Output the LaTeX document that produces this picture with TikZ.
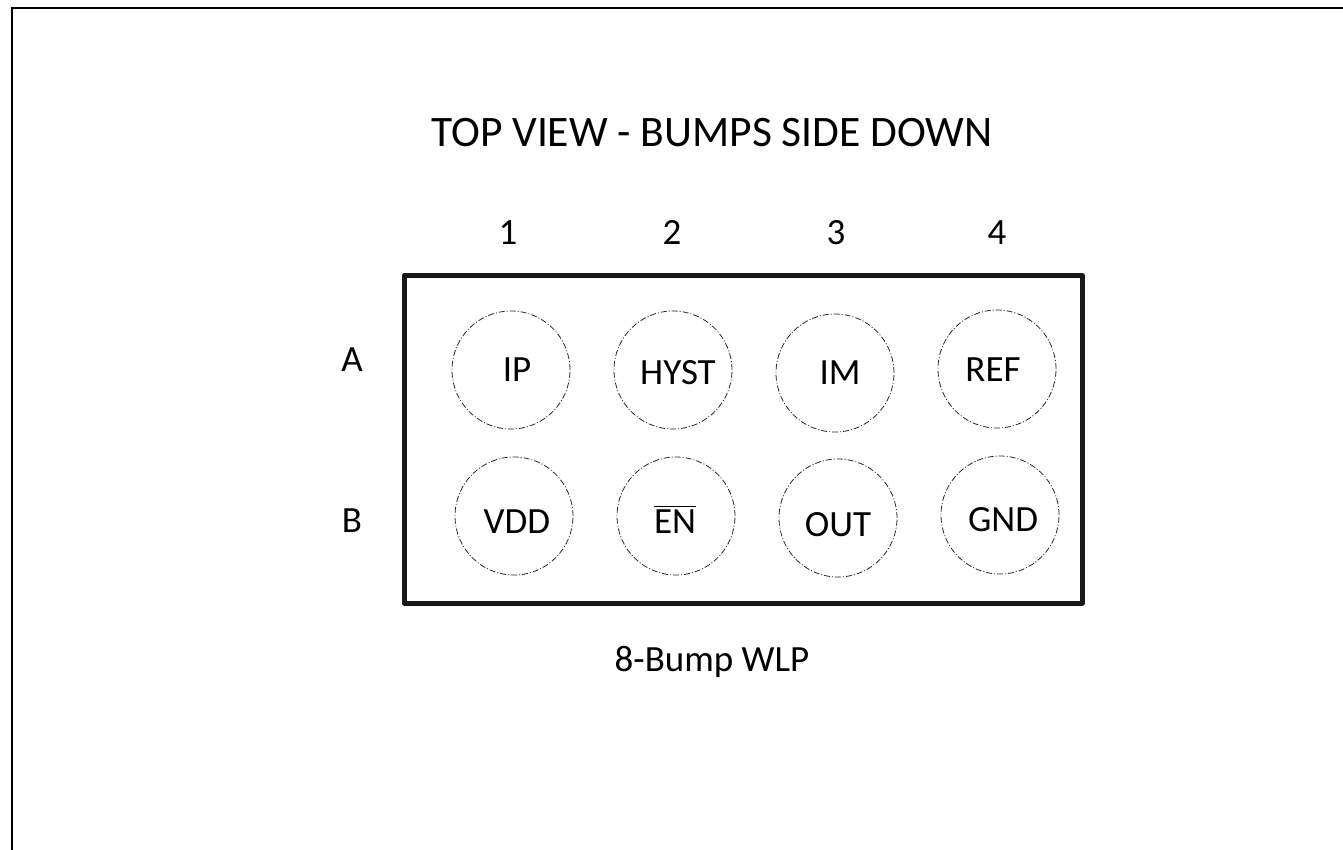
\documentclass[tikz,border=0pt]{standalone}
\usepackage{fontspec}
\setmainfont{Carlito}
\newcommand\myovl[1]{\setbox0\hbox{#1}\leavevmode\rlap{\raisebox{\dimexpr\ht0+3pt\relax}{\rule{\wd0}{1.6pt}}}\box0}
\begin{document}
\begin{tikzpicture}[x=1pt,y=-1pt,
  lbl/.style={inner sep=0pt, text height=23.8pt, text depth=0pt, font=\fontsize{37}{40}\selectfont},
  ttl/.style={inner sep=0pt, text height=28pt, text depth=0pt, font=\fontsize{43.5}{46}\selectfont},
  bump/.style={draw=black!85, line width=0.8pt, dash pattern=on 6pt off 2pt on 1pt off 2pt, circle, minimum size=118pt, inner sep=0pt},
  pkg/.style={draw=black!90, line width=5pt, line join=round}]
\useasboundingbox (0,0) rectangle (1343,850);
% outer frame (top and left only)
\coordinate (ftl) at (12,8);
\coordinate (ftr) at (1343,8);
\coordinate (fbl) at (12,850);
\draw[line width=2pt] (fbl) -- (ftl) -- (ftr);
% title
\node[ttl] (title) at (712,133) {TOP VIEW - BUMPS SIDE DOWN};
% column numbers
\node[lbl] (c1) at (508,233) {1};
\node[lbl] (c2) at (672,233) {2};
\node[lbl] (c3) at (836,233) {3};
\node[lbl] (c4) at (997,233) {4};
% row letters
\node[lbl] (rA) at (352,360) {A};
\node[lbl] (rB) at (352,521) {B};
% package outline
\draw[pkg] (404,275.5) rectangle (1082,603);
% bumps
\node[bump] (a1) at (511,370) {};
\node[bump] (a2) at (673,370) {};
\node[bump] (a3) at (835,373) {};
\node[bump] (a4) at (997,369) {};
\node[bump] (b1) at (514,516) {};
\node[bump] (b2) at (676,516) {};
\node[bump] (b3) at (838,518) {};
\node[bump] (b4) at (1000,515) {};
% bump labels
\node[lbl] (ta1) at (517,370) {IP};
\node[lbl] (ta2) at (678,373) {HYST};
\node[lbl] (ta3) at (840,373) {IM};
\node[lbl] (ta4) at (993,370) {REF};
\node[lbl] (tb1) at (517,522) {VDD};
\node[lbl] (tb2) at (675,522) {\myovl{EN}};
\node[lbl] (tb3) at (838,525) {OUT};
\node[lbl] (tb4) at (1003,520) {GND};
% package name
\node[lbl] (name) at (712,660) {8-Bump WLP};
\end{tikzpicture}
\end{document}
